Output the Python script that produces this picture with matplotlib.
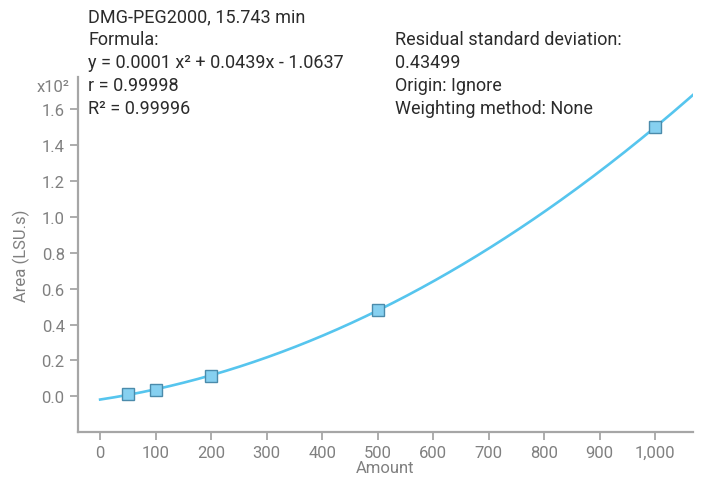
import numpy as np
import matplotlib
matplotlib.use("Agg")
import matplotlib.pyplot as plt

plt.rcParams['font.family'] = ['Roboto', 'DejaVu Sans']

# calibration points (Area in x10^2 LSU.s)
amount = [50, 100, 200, 500, 1000]
area = [0.012, 0.035, 0.115, 0.48, 1.50]

x_ticks = [0, 100, 200, 300, 400, 500, 600, 700, 800, 900, 1000]
x_labels = ['0', '100', '200', '300', '400', '500', '600', '700', '800', '900', '1,000']
y_ticks = [0.0, 0.2, 0.4, 0.6, 0.8, 1.0, 1.2, 1.4, 1.6]

info_left = ["DMG-PEG2000, 15.743 min", "Formula:",
             "y = 0.0001 x\u00b2 + 0.0439x - 1.0637", "r = 0.99998", "R\u00b2 = 0.99996"]
info_right = ["Residual standard deviation:", "0.43499", "Origin: Ignore",
              "Weighting method: None"]

grey = '#a6a6a6'
tick_grey = '#808080'
text_col = '#2b2b2b'

fig = plt.figure(figsize=(7.02, 4.85), dpi=100)
ax = fig.add_axes([0.111, 0.107, 0.876, 0.732])

# quadratic fit through the calibration points
coef = np.polyfit(amount, area, 2)
xs = np.linspace(0, 1075, 300)
ax.plot(xs, np.polyval(coef, xs), color='#56c5ee', lw=1.9, zorder=2)
ax.plot(amount, area, ls='none', marker='s', ms=8.5, mfc='#86d0f0',
        mec='#4b8bab', mew=1.0, zorder=3)

ax.set_xlim(-40, 1068)
ax.set_ylim(-0.2, 1.78)
ax.set_xticks(x_ticks)
ax.set_xticklabels(x_labels)
ax.set_yticks(y_ticks)
ax.set_yticklabels([f'{v:.1f}' for v in y_ticks])

for s in ['top', 'right']:
    ax.spines[s].set_visible(False)
for s in ['left', 'bottom']:
    ax.spines[s].set_color(grey)
    ax.spines[s].set_linewidth(1.6)
ax.tick_params(colors=grey, labelcolor=tick_grey, labelsize=12, length=6, width=1.3)

ax.set_xlabel('Amount', color=tick_grey, fontsize=12, labelpad=0)
ax.set_ylabel('Area (LSU.s)', color=tick_grey, fontsize=12, labelpad=8)

fig.text(70 / 702, 1 - 87 / 485, 'x10\u00b2', color=tick_grey, fontsize=12,
         ha='right', va='center')

for i, t in enumerate(info_left):
    fig.text(88 / 702, 1 - (17 + 23 * i) / 485, t, color=text_col, fontsize=13, va='center')
for i, t in enumerate(info_right):
    fig.text(395 / 702, 1 - (40 + 23 * i) / 485, t, color=text_col, fontsize=13, va='center')

fig.savefig('out.png', dpi=100)
